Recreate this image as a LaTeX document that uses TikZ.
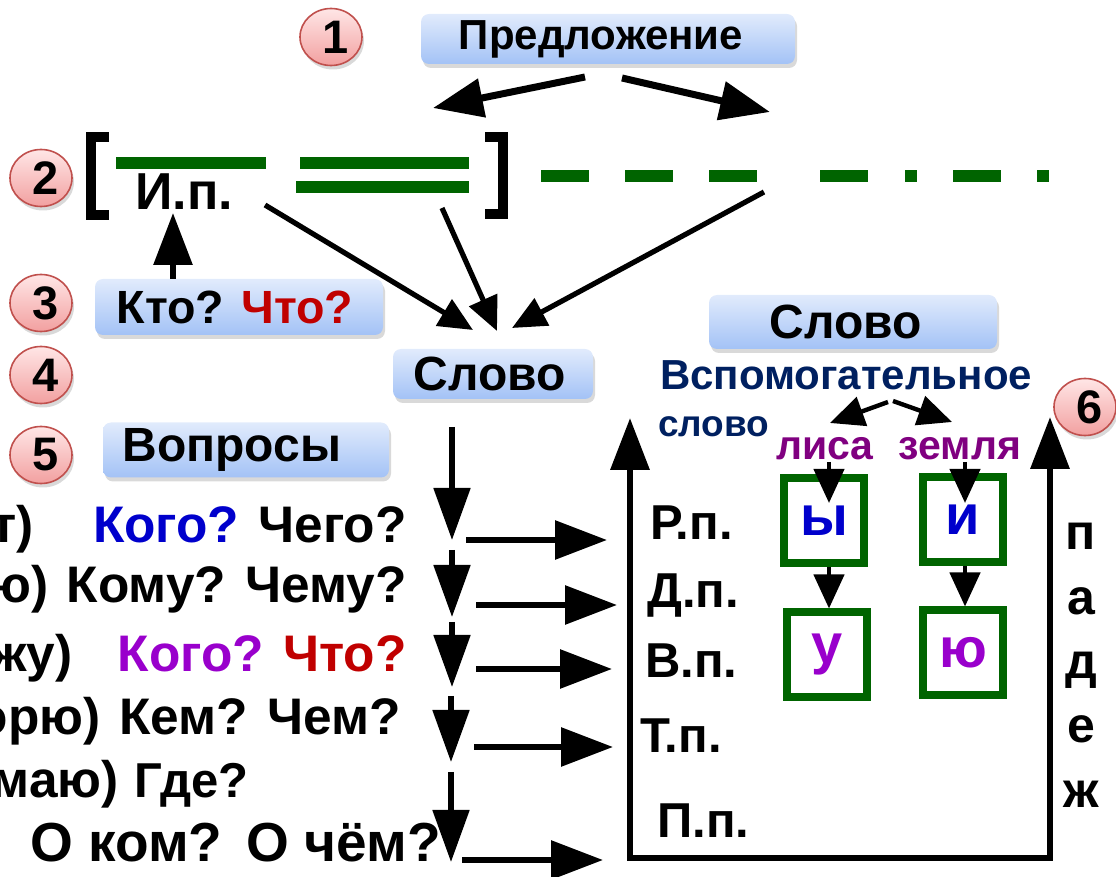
\documentclass[tikz,border=0pt]{standalone}
\usepackage{fontspec}
\setmainfont{Liberation Sans}
\usetikzlibrary{arrows.meta,shapes.geometric,shadows}
\definecolor{qblue}{HTML}{0000CC}
\definecolor{qred}{HTML}{C00000}
\definecolor{qpurple}{HTML}{9900CC}
\definecolor{lpurple}{HTML}{800080}
\definecolor{navy}{HTML}{002060}
\definecolor{dgreen}{RGB}{0,100,0}
\definecolor{boxtop}{HTML}{E1EBFC}
\definecolor{boxbot}{HTML}{A3C2F6}
\definecolor{pinktop}{HTML}{FFE6E6}
\definecolor{pinkbot}{HTML}{F2A0A0}
\definecolor{numedge}{HTML}{C0504D}
\begin{document}
\begin{tikzpicture}[x=0.5pt,y=0.5pt]
\tikzstyle{every node}+=[inner sep=0pt,font=\bfseries]
\tikzstyle{num}=[ellipse,draw=numedge,line width=0.8pt,top color=pinktop,bottom color=pinkbot,minimum width=31pt,minimum height=28.5pt,drop shadow={shadow xshift=1pt,shadow yshift=-2pt,opacity=0.3},font=\fontsize{23.5}{23.5}\bfseries]
\tikzstyle{bluebox}=[rounded corners=4pt,top color=boxtop,bottom color=boxbot,drop shadow={shadow xshift=1pt,shadow yshift=-2pt,opacity=0.3}]
\tikzstyle{gbox}=[draw=dgreen,line width=4pt,minimum width=40pt,minimum height=42.5pt,font=\fontsize{28}{28}\bfseries]
\tikzstyle{qtext}=[font=\fontsize{25.7}{30}\bfseries]
\tikzstyle{case}=[anchor=base west,font=\fontsize{24.5}{24.5}\bfseries]
\tikzstyle{gline}=[dgreen,line width=6pt]
\tikzstyle{brack}=[line width=5pt]
\tikzstyle{toparr}=[line width=3.5pt,-{Triangle[length=25pt,width=19pt]}]
\tikzstyle{arr}=[line width=2.6pt,-{Triangle[length=17pt,width=15pt]}]
\tikzstyle{downarr}=[line width=2.6pt,-{Triangle[length=26pt,width=18pt]}]
\tikzstyle{rarr}=[line width=3pt,-{Triangle[length=26pt,width=19pt]}]
\tikzstyle{smallarr}=[line width=2.2pt,-{Triangle[length=17pt,width=15pt]}]
\useasboundingbox (0,0) rectangle (1116,-877);
\clip (0,0) rectangle (1116,-877);
% numbers
\node[num] (num1) at (331,-37) {\kern5pt1};
\node[num] (num2) at (41,-178) {\kern5pt2};
\node[num] (num3) at (41,-303) {\kern5pt3};
\node[num] (num4) at (41,-375) {\kern5pt4};
\node[num] (num5) at (41,-455) {\kern5pt5};
\node[num] (num6) at (1085,-407) {\kern5pt6};
% boxes
\node[bluebox,minimum width=187pt,minimum height=25pt,font=\fontsize{21}{21}\bfseries] (pred) at (608,-39) {Предложение\kern7pt};
\node[bluebox,minimum width=144pt,minimum height=28pt,font=\fontsize{23.3}{23.3}\bfseries] (kto) at (239,-307) {Кто? \textcolor{qred}{Что?}\kern4pt};
\node[bluebox,minimum width=100pt,minimum height=25pt,font=\fontsize{24}{24}\bfseries] (slovoA) at (493,-374) {Слово\kern3pt};
\node[bluebox,minimum width=143pt,minimum height=27.5pt,font=\fontsize{24}{24}\bfseries] (vopr) at (246,-450) {Вопросы\kern14pt};
\node[bluebox,minimum width=144pt,minimum height=27pt,font=\fontsize{24}{24}\bfseries] (slovoB) at (853,-322) {Слово\kern7pt};
% scheme of the sentence
\draw[brack] (109,-137) -- (91,-137) -- (91,-215) -- (109,-215);
\draw[brack] (485,-137) -- (503,-137) -- (503,-214) -- (485,-214);
\draw[gline] (116,-163) -- (266,-163);
\draw[gline] (300,-163) -- (469,-163);
\draw[gline] (296,-187) -- (469,-187);
\draw[gline] (541,-176) -- (589,-176);
\draw[gline] (625,-176) -- (673,-176);
\draw[gline] (709,-176) -- (757,-176);
\draw[gline] (820,-176) -- (868,-176);
\draw[gline] (905,-176) -- (917,-176);
\draw[gline] (953,-176) -- (1001,-176);
\draw[gline] (1037,-176) -- (1049,-176);
\node[anchor=base,font=\fontsize{26}{26}\bfseries] (ip) at (184,-210) {И.п.};
% arrows of the top part
\coordinate (predL) at (585,-77);
\coordinate (predR) at (622,-78);
\coordinate (leftT) at (433,-108);
\coordinate (rightT) at (770,-112);
\draw[toparr] (predL) -- (leftT);
\draw[toparr] (predR) -- (rightT);
\coordinate (ipfoot) at (173,-279);
\coordinate (iptip) at (173,-213);
\draw[rarr] (ipfoot) -- (iptip);
\coordinate (fromIp) at (265,-205);
\coordinate (fromDbl) at (442,-208);
\coordinate (fromDash) at (764,-192);
\coordinate (toA) at (473,-330);
\coordinate (toB) at (497,-331);
\coordinate (toC) at (512,-328);
\draw[arr] (fromIp) -- (toA);
\draw[arr] (fromDbl) -- (toB);
\draw[arr] (fromDash) -- (toC);
% questions
\node[qtext,anchor=base east] (r1a) at (34,-543) {т)};
\node[qtext,anchor=base east] (r1b) at (407,-543) {\textcolor{qblue}{Кого?} Чего?};
\node[qtext,anchor=base east] (r2a) at (49,-603) {ю)};
\node[qtext,anchor=base east] (r2b) at (407,-603) {Кому? Чему?};
\node[qtext,anchor=base east] (r3a) at (73,-672) {жу)};
\node[qtext,anchor=base east] (r3b) at (407,-672) {\textcolor{qpurple}{Кого?} \textcolor{qred}{Что?}};
\node[qtext,anchor=base east] (r4a) at (101,-735) {орю)};
\node[qtext,anchor=base east] (r4b) at (401,-735) {Кем? Чем?};
\node[qtext,anchor=base east] (r5a) at (119,-798) {умаю)};
\node[qtext,anchor=base west,font=\fontsize{24.5}{30}\bfseries] (r5b) at (134,-798) {Где?};
\node[qtext,anchor=base west,font=\fontsize{27.5}{30}\bfseries] (r6) at (30,-862) {О ком?\hspace{12pt}О чём?};
% chain of arrows
\coordinate (d0) at (452,-427);
\coordinate (d1) at (452,-540);
\coordinate (d2) at (452,-550);
\coordinate (d3) at (452,-617);
\coordinate (d4) at (452,-622);
\coordinate (d5) at (452,-687);
\coordinate (d6) at (451,-696);
\coordinate (d7) at (451,-762);
\coordinate (d8) at (451,-772);
\coordinate (d9) at (451,-862);
\draw[downarr] (d0) -- (d1);
\draw[downarr] (d2) -- (d3);
\draw[downarr] (d4) -- (d5);
\draw[downarr] (d6) -- (d7);
\draw[downarr] (d8) -- (d9);
\coordinate (h1a) at (466,-540); \coordinate (h1b) at (607,-540);
\coordinate (h2a) at (476,-605); \coordinate (h2b) at (617,-605);
\coordinate (h3a) at (476,-669); \coordinate (h3b) at (612,-669);
\coordinate (h4a) at (474,-747); \coordinate (h4b) at (613,-747);
\coordinate (h5a) at (462,-860); \coordinate (h5b) at (603,-860);
\draw[rarr] (h1a) -- (h1b);
\draw[rarr] (h2a) -- (h2b);
\draw[rarr] (h3a) -- (h3b);
\draw[rarr] (h4a) -- (h4b);
\draw[rarr] (h5a) -- (h5b);
% frame of the cases
\coordinate (lt) at (630,-418);
\coordinate (lb) at (630,-858);
\coordinate (rb) at (1050,-858);
\coordinate (rt) at (1050,-417);
\draw[line width=3.3pt,{Triangle[length=26pt,width=19pt]}-{Triangle[length=26pt,width=19pt]}] (lt) -- (lb) -- (rb) -- (rt);
\node[case] (rp) at (650,-540) {Р.п.};
\node[case] (dp) at (647,-608) {Д.п.};
\node[case] (vp) at (645,-678) {В.п.};
\node[case] (tp) at (640,-753) {Т.п.};
\node[case] (pp) at (657,-838) {П.п.};
\foreach \ch [count=\i] in {п,а,д,е,ж}
  \node[anchor=base,font=\fontsize{25}{25}\bfseries] (pad\i) at (1081,{-550-64.25*(\i-1)}) {\ch};
% helper word
\node[anchor=base,text=navy,font=\fontsize{21}{21}\bfseries] (vsp) at (846,-390) {Вспомогательное};
\node[anchor=base west,text=navy,font=\fontsize{18.5}{18.5}\bfseries] (vslovo) at (658,-437) {слово};
\node[anchor=base,text=lpurple,font=\fontsize{20.5}{20.5}\bfseries] (lisa) at (825,-460) {лиса};
\node[anchor=base,text=lpurple,font=\fontsize{20.5}{20.5}\bfseries] (zemlya) at (960,-460) {земля};
\coordinate (vspL) at (888,-402);
\coordinate (vspR) at (893,-401);
\coordinate (lisaT) at (830,-423);
\coordinate (zemT) at (952,-422);
\draw[smallarr] (vspL) -- (lisaT);
\draw[smallarr] (vspR) -- (zemT);
\node[gbox] (yb) at (824,-521) {\textcolor{qblue}{ы}};
\node[gbox] (ib) at (963,-520) {\textcolor{qblue}{и}};
\node[gbox] (ub) at (827,-655) {\textcolor{qpurple}{у}};
\node[gbox] (jub) at (963,-653) {\textcolor{qpurple}{ю}};
\coordinate (lisaF) at (829,-462);
\coordinate (lisaTip) at (829,-503);
\coordinate (zemF) at (965,-462);
\coordinate (zemTip) at (965,-503);
\draw[smallarr] (lisaF) -- (lisaTip);
\draw[smallarr] (zemF) -- (zemTip);
\draw[smallarr] (yb.south -| lisaF) -- (ub.north -| lisaF);
\draw[smallarr] (ib.south -| zemF) -- (jub.north -| zemF);
\end{tikzpicture}
\end{document}
